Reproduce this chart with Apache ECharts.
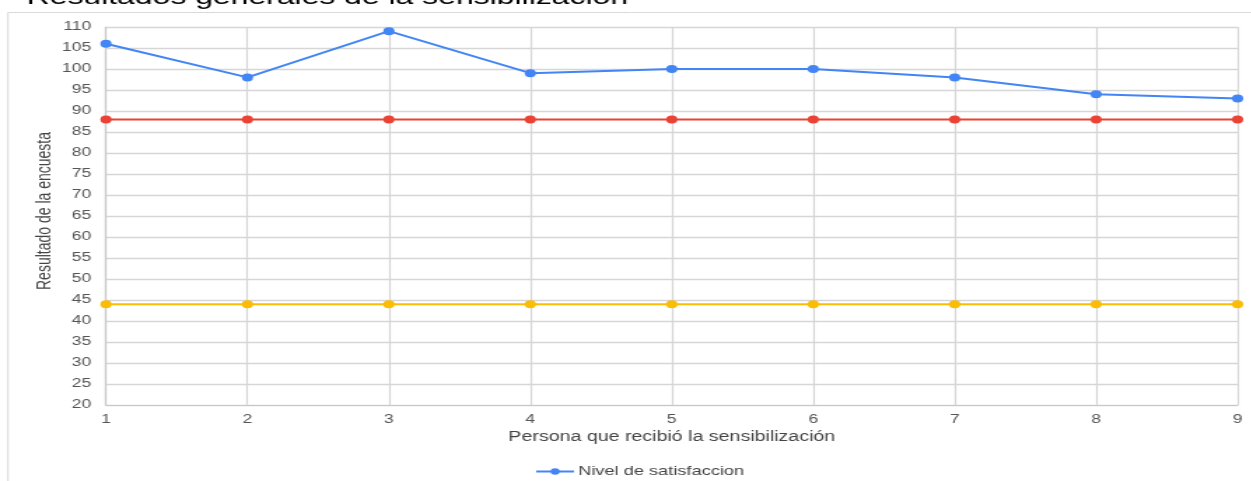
<!DOCTYPE html>
<html>
<head>
<meta charset="utf-8">
<script src="https://cdn.jsdelivr.net/npm/echarts@6/dist/echarts.min.js"></script>
<style>
  html, body { margin: 0; padding: 0; background: #fff; overflow: hidden; }
  /* the chart is laid out narrow and widened horizontally */
  #chart { width: 893.6px; height: 481px; transform: scaleX(1.4); transform-origin: 0 0; }
</style>
</head>
<body>
<div id="chart"></div>
<script>
const categories = ['1', '2', '3', '4', '5', '6', '7', '8', '9'];
const satisfaccion = [106, 98, 109, 99, 100, 100, 98, 94, 93];
const nivelAlto = [88, 88, 88, 88, 88, 88, 88, 88, 88];
const nivelBajo = [44, 44, 44, 44, 44, 44, 44, 44, 44];

const gridColor = '#d6d6d6';
const labelColor = '#555';
const font = 'Liberation Sans, Arial, sans-serif';

const chart = echarts.init(document.getElementById('chart'), null, { renderer: 'canvas' });

chart.setOption({
  animation: false,
  backgroundColor: '#fff',
  title: {
    text: 'Resultados generales de la sensibilización',
    left: 19,
    top: -14,
    padding: 0,
    textStyle: { fontFamily: font, fontSize: 22.8, fontWeight: 'normal', color: '#000' }
  },
  graphic: [{
    type: 'rect',
    silent: true,
    z: -1,
    shape: { x: 5.7, y: 12.5, width: 2000, height: 1000 },
    style: { fill: 'none', stroke: '#d9d9d9', lineWidth: 1 }
  }],
  legend: {
    data: ['Nivel de satisfaccion'],
    left: 382,
    bottom: 3,
    padding: 0,
    itemWidth: 27,
    itemHeight: 8,
    itemGap: 10,
    textStyle: { fontFamily: font, fontSize: 13, color: '#444', padding: [0, 0, 0, -2] }
  },
  grid: { left: 75.7, right: 10, top: 27, bottom: 76 },
  xAxis: {
    type: 'category',
    data: categories,
    boundaryGap: false,
    name: 'Persona que recibió la sensibilización',
    nameLocation: 'middle',
    nameGap: 25,
    nameMoveOverlap: false,
    nameTextStyle: { fontFamily: font, fontSize: 14, color: '#444' },
    axisLine: { lineStyle: { color: '#c8c8c8', width: 1.2 } },
    axisTick: { show: false },
    axisLabel: { margin: 8, fontFamily: font, fontSize: 12.5, color: labelColor },
    splitLine: { show: true, lineStyle: { color: gridColor, width: 1.2 } }
  },
  yAxis: {
    type: 'value',
    min: 20,
    max: 110,
    interval: 5,
    name: 'Resultado de la encuesta',
    nameLocation: 'middle',
    nameGap: 37,
    nameMoveOverlap: false,
    nameTextStyle: { fontFamily: font, fontSize: 14, color: '#444', padding: [0, 0, 0, 10] },
    axisLine: { show: true, lineStyle: { color: '#c8c8c8', width: 1.2 } },
    axisTick: { show: false },
    axisLabel: { margin: 10.5, fontFamily: font, fontSize: 12.5, color: labelColor },
    splitLine: { show: true, lineStyle: { color: gridColor, width: 1.4 } }
  },
  series: [
    {
      name: 'Nivel de satisfaccion',
      type: 'line',
      data: satisfaccion,
      symbol: 'circle',
      symbolSize: 8,
      color: '#4285f4',
      lineStyle: { width: 2 },
      z: 4
    },
    {
      name: 'Nivel alto',
      type: 'line',
      data: nivelAlto,
      symbol: 'circle',
      symbolSize: 8,
      color: '#ea4335',
      lineStyle: { width: 2 },
      z: 3
    },
    {
      name: 'Nivel bajo',
      type: 'line',
      data: nivelBajo,
      symbol: 'circle',
      symbolSize: 8,
      color: '#fbbc04',
      lineStyle: { width: 2 },
      z: 3
    }
  ]
});
</script>
</body>
</html>
